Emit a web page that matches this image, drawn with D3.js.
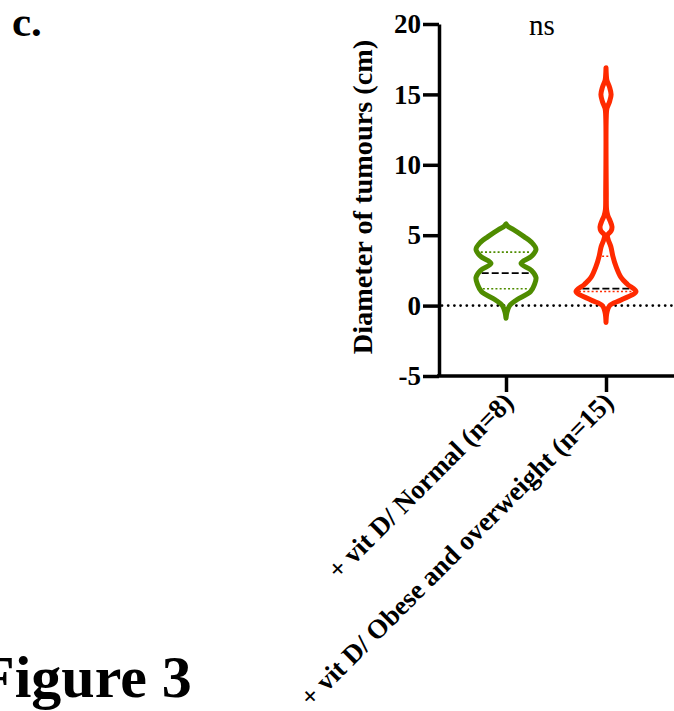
<!DOCTYPE html>
<html><head><meta charset="utf-8">
<script src="https://cdn.jsdelivr.net/npm/d3@7"></script>
<style>body{margin:0;background:#fff}svg{display:block}text{font-family:"Liberation Serif","Times New Roman",serif}</style>
</head><body>
<script>
const categories = ["+ vit D/ Normal (n=8)", "+ vit D/ Obese and overweight (n=15)"];
const colors = ["#4f8c00", "#ff2a00"];
// violin profiles: [value (cm), relative density]
const normalProfile = [[-0.9,0],[-0.5,0.03],[0,0.12],[0.4,0.35],[1.0,0.82],[1.5,0.95],[2.0,1.0],[2.5,0.85],[3.0,0.5],[3.5,0.85],[4.0,1.0],[4.5,0.85],[4.9,0.6],[5.4,0.25],[5.6,0.08],[5.8,0]];
const obeseProfile = [[-1.2,0],[-0.5,0.03],[0,0.12],[0.4,0.5],[1.0,1.0],[1.5,0.72],[2.0,0.5],[2.8,0.33],[3.5,0.23],[4.2,0.16],[4.7,0.07],[5.0,0.05],[5.3,0.17],[5.6,0.2],[6.0,0.14],[6.4,0.06],[6.8,0.02],[8,0.01],[13.5,0.01],[14.0,0.03],[14.5,0.12],[15.0,0.17],[15.5,0.12],[16.0,0.03],[16.4,0.01],[16.9,0]];
// quartiles [Q1, median, Q3]
const normalQuartiles = [1.2, 2.3, 3.8];
const obeseQuartiles = [1.0, 1.2, 3.5];
const yTicks = [-5, 0, 5, 10, 15, 20];
const significance = "ns";

const W = 674, H = 711;
const svg = d3.select("body").append("svg").attr("width", W).attr("height", H);
const y = d3.scaleLinear().domain([-5, 20]).range([376, 24]);
const x = d3.scalePoint().domain(categories).range([506, 606]);
const axisX = 439;
const w = d3.scaleLinear().domain([0, 1]).range([0, 30]);

// zero dotted line
svg.append("line").attr("x1", axisX + 3).attr("x2", W).attr("y1", y(0)).attr("y2", y(0))
  .attr("stroke", "#000").attr("stroke-width", 2.8).attr("stroke-linecap", "round").attr("stroke-dasharray", "0,6.2");

// axes
const yAxis = d3.axisLeft(y).tickValues(yTicks).tickSize(16).tickSizeOuter(0).tickPadding(2).tickFormat(d => String(d));
const gy = svg.append("g").attr("transform", `translate(${axisX},0)`).call(yAxis);
gy.select(".domain").attr("stroke-width", 3.5);
gy.selectAll(".tick line").attr("stroke-width", 3.5);
gy.selectAll(".tick text").attr("font-size", 27).attr("font-weight", "bold").attr("font-family", "Liberation Serif").attr("fill", "#000");

const xAxis = d3.axisBottom(x).tickSize(16).tickSizeOuter(0).tickFormat("");
const gx = svg.append("g").attr("transform", `translate(0,${y(-5)})`).call(xAxis);
gx.select(".domain").attr("d", `M${axisX - 2},0H${W}`).attr("stroke-width", 3.5);
gx.selectAll(".tick line").attr("stroke-width", 3.5);

// x labels rotated
svg.selectAll(".xlab").data(categories).join("text")
  .attr("class", "xlab")
  .attr("transform", d => `translate(${x(d) + 9},${y(-5) + 28}) rotate(-45)`)
  .attr("text-anchor", "end").attr("font-size", 27).attr("font-weight", "bold").text(d => d);

// violins
const profiles = [normalProfile, obeseProfile];
const quarts = [normalQuartiles, obeseQuartiles];
function halfAt(prof, v) {
  for (let i = 1; i < prof.length; i++) {
    if (v <= prof[i][0]) {
      const a = prof[i - 1], b = prof[i];
      const t = (v - a[0]) / (b[0] - a[0]);
      return a[1] + t * (b[1] - a[1]);
    }
  }
  return 0;
}
categories.forEach((c, i) => {
  const cx = x(c);
  const area = d3.area().y(d => y(d[0])).x0(d => cx - w(d[1])).x1(d => cx + w(d[1])).curve(d3.curveCatmullRom.alpha(0.5));
  const [q1, med, q3] = quarts[i];
  [q1, q3].forEach(q => {
    const hw = Math.max(0, w(halfAt(profiles[i], q)) - 3);
    svg.append("line").attr("x1", cx - hw).attr("x2", cx + hw).attr("y1", y(q)).attr("y2", y(q))
      .attr("stroke", colors[i]).attr("stroke-width", 1.6).attr("stroke-dasharray", "2,2.2");
  });
  const hm = Math.max(0, w(halfAt(profiles[i], med)) - 3);
  svg.append("line").attr("x1", cx - hm).attr("x2", cx + hm).attr("y1", y(med)).attr("y2", y(med))
    .attr("stroke", "#000").attr("stroke-width", 1.8).attr("stroke-dasharray", "7,3");
  svg.append("path").datum(profiles[i]).attr("d", area).attr("fill", "none")
    .attr("stroke", colors[i]).attr("stroke-width", 5).attr("stroke-linejoin", "round");
});

// significance
svg.append("text").attr("x", 542).attr("y", 35).attr("text-anchor", "middle").attr("font-size", 29).text(significance);

// y title
svg.append("text").attr("transform", "translate(372,197) rotate(-90)").attr("text-anchor", "middle")
  .attr("font-size", 28.3).attr("font-weight", "bold").text("Diameter of tumours (cm)");

// panel label & figure label
svg.append("text").attr("x", 12).attr("y", 36).attr("font-size", 43).attr("font-weight", "bold").text("c.");
svg.append("text").attr("x", -22).attr("y", 697).attr("font-size", 60).attr("font-weight", "bold").text("Figure 3");
</script>
</body></html>
